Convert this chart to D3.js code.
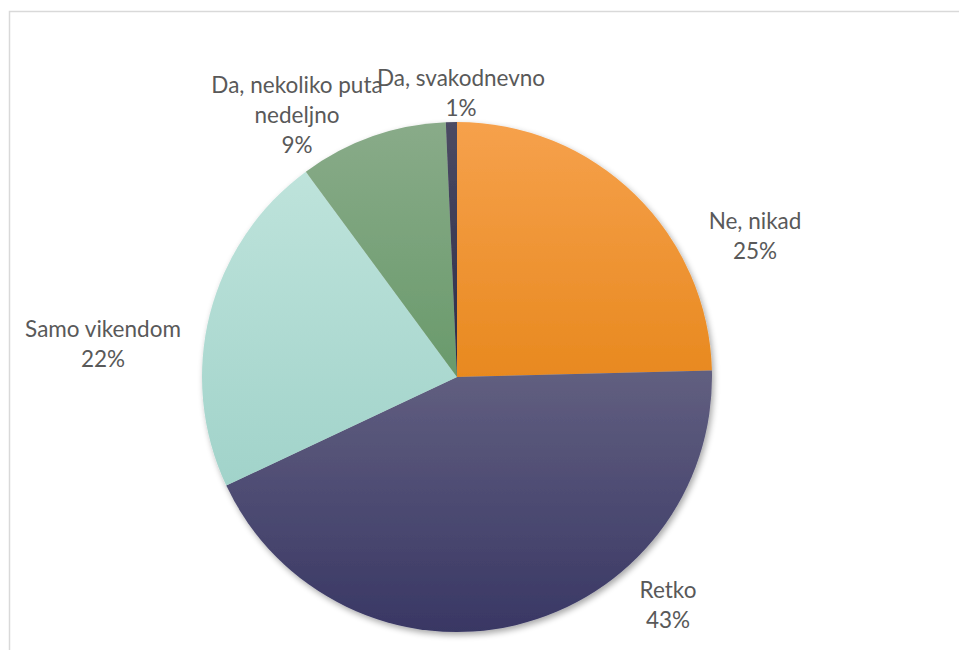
<!DOCTYPE html>
<html>
<head>
<meta charset="utf-8">
<script src="https://cdn.jsdelivr.net/npm/d3@7"></script>
<style>
  body { margin: 0; background: #fff; }
  svg { display: block; }
</style>
</head>
<body>
<svg id="chart"></svg>
<script>
const categories = ['Ne, nikad', 'Retko', 'Samo vikendom', 'Da, nekoliko puta nedeljno', 'Da, svakodnevno'];
const shares = [24.6, 43.4, 21.9, 9.4, 0.7];
const labelLines = [['Ne, nikad'], ['Retko'], ['Samo vikendom'], ['Da, nekoliko puta', 'nedeljno'], ['Da, svakodnevno']];
const topColors = ['#f6a14c', '#615f80', '#bee3db', '#89ab89', '#4b4b63'];
const bottomColors = ['#e8891f', '#393764', '#a1d3ca', '#699a6b', '#2c2c48'];
// where Excel put each label block, relative to the pie centre
const labelOffsets = [[298, -141], [211, 228], [-354, -33], [-160, -262], [4, -284]];

const width = 959, height = 650;
const cx = 457, cy = 377, radius = 255;
const lineHeight = 30;

const svg = d3.select('#chart')
  .attr('width', width)
  .attr('height', height);

// chart frame (cropped on right and bottom)
svg.append('rect')
  .attr('x', 9.5).attr('y', 11.5)
  .attr('width', width + 20).attr('height', height + 20)
  .attr('fill', 'none')
  .attr('stroke', '#d9d9d9')
  .attr('stroke-width', 1.5);

const defs = svg.append('defs');
const shadow = defs.append('filter')
  .attr('id', 'shadow')
  .attr('x', '-10%').attr('y', '-10%')
  .attr('width', '120%').attr('height', '120%');
shadow.append('feGaussianBlur').attr('in', 'SourceAlpha').attr('stdDeviation', 3);
shadow.append('feOffset').attr('dx', 2).attr('dy', 3).attr('result', 'blur');
shadow.append('feComponentTransfer').append('feFuncA').attr('type', 'linear').attr('slope', 0.35);
const merge = shadow.append('feMerge');
merge.append('feMergeNode');
merge.append('feMergeNode').attr('in', 'SourceGraphic');

categories.forEach((c, i) => {
  const g = defs.append('linearGradient')
    .attr('id', 'grad' + i)
    .attr('x1', 0).attr('y1', 0).attr('x2', 0).attr('y2', 1);
  g.append('stop').attr('offset', '0%').attr('stop-color', topColors[i]);
  g.append('stop').attr('offset', '100%').attr('stop-color', bottomColors[i]);
});

const data = categories.map((c, i) => ({ name: c, value: shares[i], i }));
const total = d3.sum(shares);

const pie = d3.pie()
  .sort(null)
  .value(d => d.value);

const arc = d3.arc()
  .innerRadius(0)
  .outerRadius(radius);

const g = svg.append('g')
  .attr('transform', `translate(${cx}, ${cy})`);

g.append('g')
  .attr('filter', 'url(#shadow)')
  .selectAll('path')
  .data(pie(data))
  .join('path')
  .attr('d', arc)
  .attr('fill', d => `url(#grad${d.data.i})`);

const labels = g.selectAll('.label')
  .data(pie(data))
  .join('text')
  .attr('class', 'label')
  .attr('text-anchor', 'middle')
  .attr('font-family', 'Lato, "Open Sans", sans-serif')
  .attr('font-size', 22.5)
  .attr('fill', '#595959')
  .attr('transform', d => {
    const o = labelOffsets[d.data.i];
    return `translate(${o[0]}, ${o[1]})`;
  });

labels.each(function(d) {
  const lines = labelLines[d.data.i].concat([Math.round(d.data.value / total * 100) + '%']);
  const y0 = -(lines.length - 1) * lineHeight / 2;
  d3.select(this).selectAll('tspan')
    .data(lines)
    .join('tspan')
    .attr('x', 0)
    .attr('y', (l, k) => y0 + k * lineHeight)
    .attr('dy', '0.35em')
    .text(l => l);
});
</script>
</body>
</html>
